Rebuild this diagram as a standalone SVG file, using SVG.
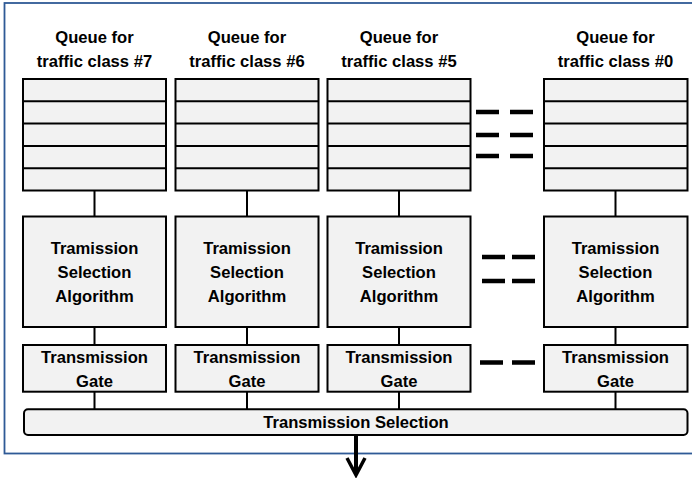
<svg xmlns="http://www.w3.org/2000/svg" width="692" height="478" viewBox="0 0 692 478">
<style>
.box{fill:#f2f2f2;stroke:#000;stroke-width:2}
.row{stroke:#000;stroke-width:2;fill:none}
.con{stroke:#000;stroke-width:2;fill:none}
.dash{stroke:#000;stroke-width:4.5;fill:none}
.t{font-family:"Liberation Sans",Arial,sans-serif;font-weight:bold;font-size:16.6px;fill:#000;text-anchor:middle}
</style>
<rect id="frame" x="4.5" y="3" width="690" height="450.5" fill="#fff" stroke="#2f5a96" stroke-width="1.8"/>

<g id="queue7">
<text class="t" x="94.5" y="43">Queue for</text>
<text class="t" x="94.5" y="67">traffic class #7</text>
<rect class="box" x="23" y="79" width="143" height="111.5"/>
<path class="row" d="M23 101.3H166M23 123.6H166M23 145.9H166M23 168.2H166"/>
</g>
<g id="queue6">
<text class="t" x="247" y="43">Queue for</text>
<text class="t" x="247" y="67">traffic class #6</text>
<rect class="box" x="175.5" y="79" width="143" height="111.5"/>
<path class="row" d="M175.5 101.3H318.5M175.5 123.6H318.5M175.5 145.9H318.5M175.5 168.2H318.5"/>
</g>
<g id="queue5">
<text class="t" x="399" y="43">Queue for</text>
<text class="t" x="399" y="67">traffic class #5</text>
<rect class="box" x="327.5" y="79" width="143" height="111.5"/>
<path class="row" d="M327.5 101.3H470.5M327.5 123.6H470.5M327.5 145.9H470.5M327.5 168.2H470.5"/>
</g>
<g id="queue0">
<text class="t" x="615.5" y="43">Queue for</text>
<text class="t" x="615.5" y="67">traffic class #0</text>
<rect class="box" x="544" y="79" width="143.5" height="111.5"/>
<path class="row" d="M544 101.3H687.5M544 123.6H687.5M544 145.9H687.5M544 168.2H687.5"/>
</g>

<g id="tsa7">
<rect class="box" x="23" y="216.5" width="143" height="110.5"/>
<text class="t" x="94.5" y="254">Tramission</text>
<text class="t" x="94.5" y="278">Selection</text>
<text class="t" x="94.5" y="302">Algorithm</text>
</g>
<g id="tsa6">
<rect class="box" x="175.5" y="216.5" width="143" height="110.5"/>
<text class="t" x="247" y="254">Tramission</text>
<text class="t" x="247" y="278">Selection</text>
<text class="t" x="247" y="302">Algorithm</text>
</g>
<g id="tsa5">
<rect class="box" x="327.5" y="216.5" width="143" height="110.5"/>
<text class="t" x="399" y="254">Tramission</text>
<text class="t" x="399" y="278">Selection</text>
<text class="t" x="399" y="302">Algorithm</text>
</g>
<g id="tsa0">
<rect class="box" x="544" y="216.5" width="143.5" height="110.5"/>
<text class="t" x="615.5" y="254">Tramission</text>
<text class="t" x="615.5" y="278">Selection</text>
<text class="t" x="615.5" y="302">Algorithm</text>
</g>

<g id="gate7">
<rect class="box" x="23" y="345" width="143" height="46.7"/>
<text class="t" x="94.5" y="362.5">Transmission</text>
<text class="t" x="94.5" y="386.5">Gate</text>
</g>
<g id="gate6">
<rect class="box" x="175.5" y="345" width="143" height="46.7"/>
<text class="t" x="247" y="362.5">Transmission</text>
<text class="t" x="247" y="386.5">Gate</text>
</g>
<g id="gate5">
<rect class="box" x="327.5" y="345" width="143" height="46.7"/>
<text class="t" x="399" y="362.5">Transmission</text>
<text class="t" x="399" y="386.5">Gate</text>
</g>
<g id="gate0">
<rect class="box" x="544" y="345" width="143.5" height="46.7"/>
<text class="t" x="615.5" y="362.5">Transmission</text>
<text class="t" x="615.5" y="386.5">Gate</text>
</g>

<g id="selection">
<rect class="box" x="24" y="409.3" width="663.5" height="25.7" rx="4"/>
<text class="t" x="356" y="428">Transmission Selection</text>
</g>

<g id="ellipsis">
<path class="dash" d="M476 112H499M510 112H533M476 135H499M510 135H533M476 156H499M510 156H533"/>
<path class="dash" d="M482 257H505M512 257H535M482 281H505M512 281H535"/>
<path class="dash" d="M480 362.5H503M512 362.5H535"/>
</g>

<g id="connectors">
<path class="con" d="M94.5 190.5V216.5M247 190.5V216.5M399 190.5V216.5M615.5 190.5V216.5"/>
<path class="con" d="M94.5 327V345M247 327V345M399 327V345M615.5 327V345"/>
<path class="con" d="M94.5 391.7V409.3M247 391.7V409.3M399 391.7V409.3M615.5 391.7V409.3"/>
<path d="M356 435V474" stroke="#000" stroke-width="4" fill="none"/>
<path d="M347 458L356 475L365 458" stroke="#000" stroke-width="3.5" fill="none" stroke-linejoin="miter"/>
</g>
</svg>
